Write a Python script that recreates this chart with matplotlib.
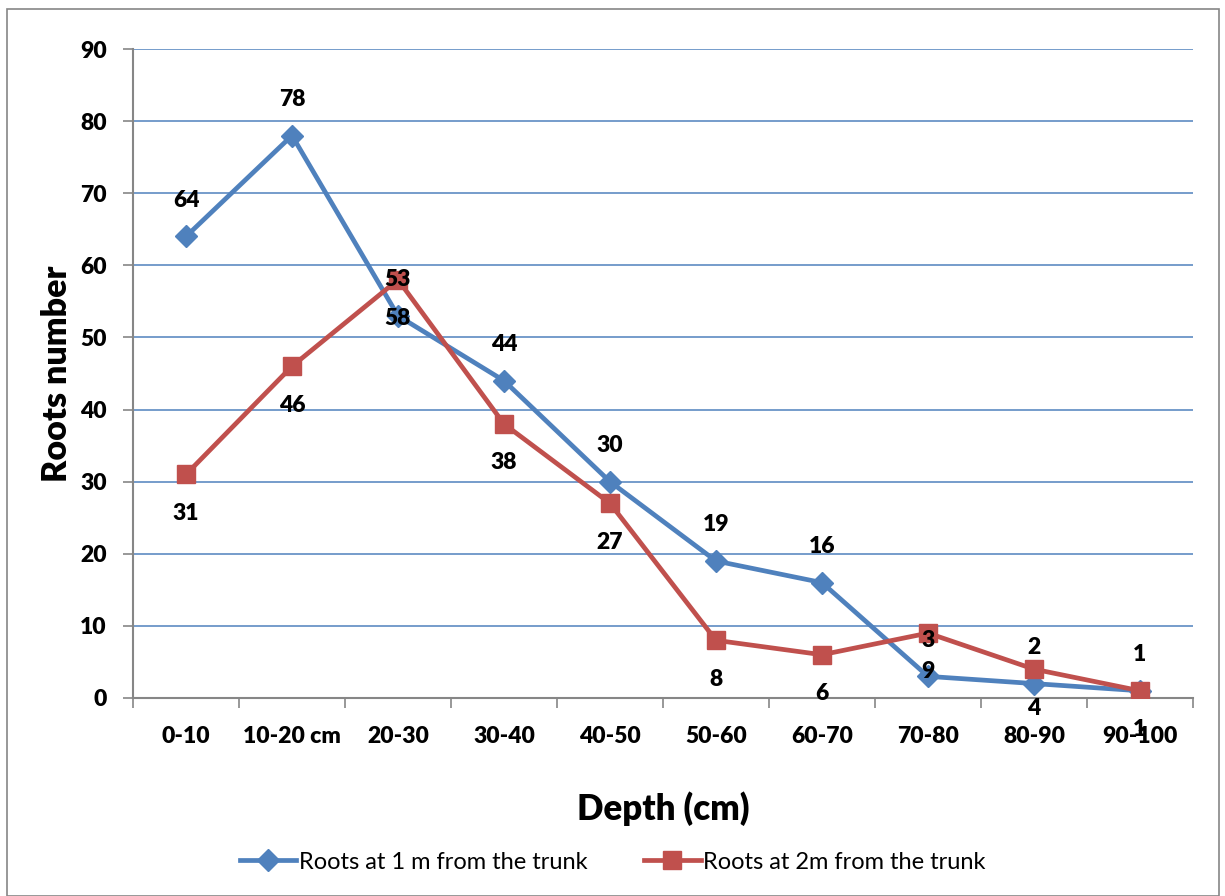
import matplotlib
matplotlib.use("Agg")
import matplotlib.pyplot as plt
from matplotlib.patches import Rectangle
from matplotlib.ticker import MultipleLocator, FixedLocator

plt.rcParams['font.family'] = ['Lato', 'DejaVu Sans']

# Daten
depths = ["0-10", "10-20 cm", "20-30", "30-40", "40-50", "50-60",
          "60-70", "70-80", "80-90", "90-100"]
roots_1m = [64, 78, 53, 44, 30, 19, 16, 3, 2, 1]
roots_2m = [31, 46, 58, 38, 27, 8, 6, 9, 4, 1]

blue = "#4F81BD"
red = "#C0504D"
bold = "heavy"

fig = plt.figure(figsize=(12.25, 8.96), dpi=100)
ax = fig.add_axes([133 / 1225, 1 - 698 / 896, 1060 / 1225, 649 / 896])

x = [i + 0.5 for i in range(len(depths))]

ax.plot(x, roots_1m, color=blue, lw=3.4, marker="D", markersize=11,
        label="Roots at 1 m from the trunk", zorder=3)
ax.plot(x, roots_2m, color=red, lw=3.4, marker="s", markersize=13.5,
        label="Roots at 2m from the trunk", zorder=4)

# Datenbeschriftungen
for xi, v in zip(x, roots_1m):
    ax.annotate(str(v), (xi, v), xytext=(0, 26), textcoords="offset points",
                ha="center", va="center", fontsize=16.5, fontweight=bold, zorder=6)
for xi, v in zip(x, roots_2m):
    ax.annotate(str(v), (xi, v), xytext=(0, -28), textcoords="offset points",
                ha="center", va="center", fontsize=16.5, fontweight=bold, zorder=6)

ax.set_xlim(0, 10)
ax.set_ylim(0, 90)
ax.grid(axis="y", color=blue, lw=1.1)
ax.set_axisbelow(True)

ax.xaxis.set_major_locator(MultipleLocator(1))
ax.xaxis.set_minor_locator(FixedLocator(x))
ax.set_xticklabels([])
ax.set_xticklabels(depths, minor=True, fontweight=bold, fontsize=16.5)
ax.set_yticks(range(0, 91, 10))
ax.set_yticklabels([str(v) for v in range(0, 91, 10)], fontweight=bold, fontsize=16.5)
ax.tick_params(axis="x", which="major", length=7, color="#868686", width=1.2)
ax.tick_params(axis="x", which="minor", length=0, pad=20)
ax.tick_params(axis="y", length=7, color="#868686", width=1.2, pad=12)

for s in ["top", "right"]:
    ax.spines[s].set_visible(False)
for s in ["left", "bottom"]:
    ax.spines[s].set_color("#868686")
    ax.spines[s].set_linewidth(1.5)

ax.set_ylabel("Roots number", fontsize=24.5, fontweight=bold, labelpad=5)
ax.set_xlabel("Depth (cm)", fontsize=25, fontweight=bold, labelpad=32)

fig.legend(loc="center", bbox_to_anchor=(0.5, 1 - 862 / 896), ncol=2,
           frameon=False, fontsize=17, handlelength=2.4, handletextpad=0.1,
           columnspacing=2.4)

# Rahmen um das Diagramm
fig.patches.append(Rectangle((7 / 1225, 0), 1212 / 1225, 1 - 9 / 896,
                             transform=fig.transFigure, fill=False,
                             edgecolor="#868686", lw=1.2))

fig.savefig("out.png", dpi=100)
